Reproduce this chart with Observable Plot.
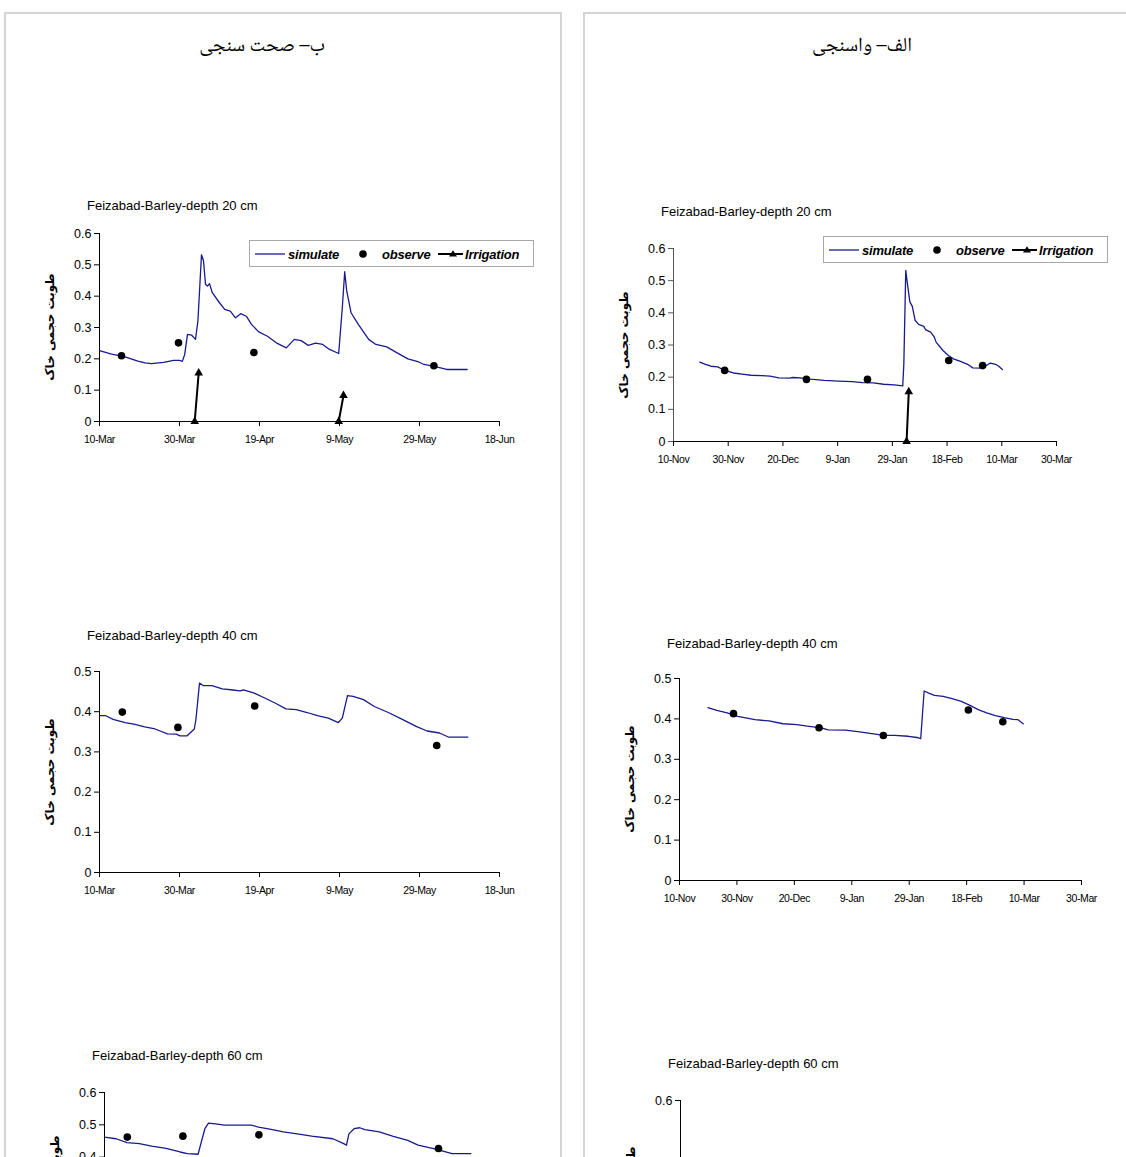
<!DOCTYPE html>
<html><head><meta charset="utf-8">
<script src="https://cdn.jsdelivr.net/npm/d3@7"></script>
<script src="https://cdn.jsdelivr.net/npm/@observablehq/plot@0.6"></script>
<style>
html,body{margin:0;padding:0;background:#fff;}
#page{position:relative;width:1126px;height:1157px;overflow:hidden;background:#fff;}
.panel{position:absolute;border:2px solid #d4d4d4;box-sizing:border-box;}
.ptitle{position:absolute;font-family:"Noto Naskh Arabic","Liberation Serif","DejaVu Serif",serif;font-size:20px;transform:translate(-50%,-50%);white-space:nowrap;direction:rtl;color:#000;}
.ctitle{position:absolute;font-family:"Liberation Sans",Arial,sans-serif;font-size:13px;white-space:nowrap;transform:translateY(-50%);color:#000;}
.ylab{position:absolute;font-family:"DejaVu Sans",sans-serif;font-weight:bold;font-size:12px;white-space:nowrap;transform:translate(-50%,-50%) rotate(-90deg);direction:rtl;color:#000;}
.chart{position:absolute;}
.chart svg{display:block;overflow:visible;}
.chart [aria-label="x-axis tick label"]{letter-spacing:-0.4px;}
.legend{position:absolute;width:285px;height:27px;border:1px solid #a8a8a8;box-sizing:border-box;background:#fff;}
.legend span{position:absolute;top:50%;transform:translateY(-50%);font-family:"Liberation Sans",Arial,sans-serif;font-size:13px;font-weight:bold;font-style:italic;white-space:nowrap;letter-spacing:-0.2px;}
.legend svg{position:absolute;left:0;top:0;}
</style>
</head>
<body>
<div id="page"></div>
<script>
// ---------- text ----------
const panelTitleLeft = "ب– صحت سنجی";
const panelTitleRight = "الف– واسنجی";
const yLabel = "طوبت حجمی خاک";
const chartTitles = ["Feizabad-Barley-depth 20 cm", "Feizabad-Barley-depth 40 cm", "Feizabad-Barley-depth 60 cm"];
const legendLabels = ["simulate", "observe", "Irrigation"];

// ---------- tick labels (dates) ----------
const leftTicks = ["2006-03-10","2006-03-30","2006-04-19","2006-05-09","2006-05-29","2006-06-18"];
const rightTicks = ["2005-11-10","2005-11-30","2005-12-20","2006-01-09","2006-01-29","2006-02-18","2006-03-10","2006-03-30"];
const yTicks6 = [0, 0.1, 0.2, 0.3, 0.4, 0.5, 0.6];
const yTicks5 = [0, 0.1, 0.2, 0.3, 0.4, 0.5];
const yTicks6b = [0, 0.2, 0.4, 0.6];

// ---------- data: [day offset from first tick, value] ----------
// Validation (left), depth 20 cm
const valSim20 = [[0,0.226],[3,0.215],[6,0.208],[9.6,0.193],[11.4,0.187],[13,0.185],[16,0.189],[18.5,0.195],[20,0.195],[20.7,0.192],[21.3,0.214],[22,0.278],[23,0.276],[24,0.262],[24.6,0.32],[25.5,0.532],[26,0.513],[26.5,0.438],[27,0.432],[27.5,0.44],[28.2,0.411],[30,0.379],[31.3,0.358],[32.7,0.352],[34,0.331],[35.3,0.344],[36.7,0.336],[38,0.31],[39.8,0.286],[42,0.272],[44.2,0.251],[46.7,0.235],[48.7,0.262],[50.4,0.258],[52.2,0.243],[54,0.25],[55.8,0.246],[57.5,0.23],[59.8,0.217],[60.7,0.363],[61.3,0.478],[61.8,0.417],[62.9,0.347],[64.7,0.31],[67.3,0.262],[69.1,0.246],[71.8,0.238],[74.4,0.219],[77.1,0.2],[79.8,0.19],[81.1,0.182],[83.7,0.176],[86.8,0.166],[91.9,0.166]];
const valObs20 = [[5.5,0.21],[19.75,0.251],[38.6,0.22],[83.6,0.178]];
const valIrr20 = [[1,23.8,0],[1,24.8,0.155],[2,59.8,0],[2,61,0.083]];
// Validation (left), depth 40 cm
const valSim40 = [[0,0.39],[1.6,0.39],[3.4,0.381],[6.4,0.373],[8.6,0.369],[11.3,0.362],[13.9,0.357],[17,0.345],[19.2,0.344],[20.1,0.34],[21.9,0.34],[23.7,0.357],[24.1,0.38],[25,0.471],[25.9,0.465],[28.1,0.465],[30.7,0.457],[33.4,0.454],[35.1,0.452],[36,0.454],[38.7,0.446],[41.3,0.434],[44,0.421],[46.6,0.407],[49.2,0.405],[51.9,0.398],[54.5,0.39],[57.2,0.384],[59.7,0.373],[60.7,0.384],[62,0.44],[63.4,0.438],[66,0.43],[68.7,0.413],[72.2,0.398],[75.7,0.381],[79.3,0.363],[81.9,0.352],[85,0.347],[87.2,0.337],[92.1,0.337]];
const valObs40 = [[5.7,0.399],[19.6,0.361],[38.8,0.414],[84.3,0.316]];
// Validation (left), depth 60 cm
const valSim60 = [[0,0.462],[2.9,0.457],[5.6,0.445],[8.7,0.442],[11.8,0.434],[15.4,0.427],[18.9,0.416],[20.7,0.411],[23.4,0.409],[24.2,0.447],[25.1,0.488],[26,0.505],[27.8,0.503],[30,0.499],[36.7,0.499],[38.5,0.493],[42,0.485],[44.7,0.478],[48.2,0.472],[51.8,0.465],[57.1,0.457],[59.8,0.442],[60.5,0.437],[61.1,0.472],[62.4,0.488],[63.8,0.491],[65.1,0.485],[68.7,0.478],[72.2,0.464],[75.8,0.452],[78.4,0.437],[82,0.427],[84.6,0.419],[86.9,0.411],[91.6,0.411]];
const valObs60 = [[5.7,0.462],[19.6,0.465],[38.6,0.469],[83.5,0.427]];

// Calibration (right), depth 20 cm
const calSim20 = [[9.6,0.247],[11.7,0.24],[13.7,0.234],[16.2,0.232],[18.1,0.223],[21.9,0.213],[25.8,0.209],[28.3,0.206],[32.2,0.205],[35.3,0.203],[38.5,0.198],[42.4,0.197],[43.6,0.199],[47.5,0.197],[50,0.194],[55.1,0.19],[60.2,0.188],[65.3,0.186],[69.2,0.183],[73,0.182],[76.8,0.178],[80.7,0.176],[83.8,0.173],[84.2,0.242],[84.9,0.532],[85.5,0.491],[86.4,0.434],[87.3,0.42],[88.3,0.377],[89.6,0.364],[91.5,0.358],[92.1,0.348],[94,0.34],[95.3,0.325],[96,0.309],[98.5,0.283],[100.4,0.268],[102.3,0.257],[104.9,0.249],[107.5,0.24],[109.4,0.229],[112.6,0.228],[114.5,0.237],[115.8,0.244],[117.7,0.24],[118.9,0.234],[120.2,0.224]];
const calObs20 = [[18.7,0.221],[48.6,0.193],[70.9,0.193],[100.6,0.252],[113,0.236]];
const calIrr20 = [[1,85.2,0],[1,86,0.155]];
// Calibration (right), depth 40 cm
const calSim40 = [[9.9,0.428],[13,0.421],[16.6,0.415],[20.3,0.406],[26.3,0.398],[31.2,0.395],[36,0.388],[40.9,0.386],[44.5,0.382],[49.4,0.378],[51.8,0.373],[57.9,0.372],[62.7,0.368],[67.6,0.363],[71.2,0.359],[74.9,0.359],[79.7,0.357],[82.7,0.354],[84,0.351],[85.2,0.469],[87,0.463],[88.8,0.458],[91.8,0.456],[94.9,0.45],[97.9,0.444],[101,0.434],[104,0.423],[107,0.415],[110,0.408],[113.1,0.403],[116.1,0.399],[117.9,0.398],[119.7,0.388]];
const calObs40 = [[18.8,0.413],[48.6,0.378],[71,0.359],[100.6,0.422],[112.6,0.393]];

// ---------- layout ----------
const page = document.getElementById("page");
function el(tag, cls, style, text) {
  const e = document.createElement(tag);
  if (cls) e.className = cls;
  Object.assign(e.style, style || {});
  if (text != null) e.textContent = text;
  page.appendChild(e);
  return e;
}

el("div", "panel", {left: "4px", top: "12px", width: "558px", height: "1300px"});
el("div", "panel", {left: "583px", top: "12px", width: "600px", height: "1300px"});
el("div", "ptitle", {left: "262px", top: "47px"}, panelTitleLeft);
el("div", "ptitle", {left: "862px", top: "47px"}, panelTitleRight);

const SIM = "#1a1a90";
const fmtY = d => d === 0 ? "0" : d3.format(".1f")(d);
const fmtX = d3.utcFormat("%-d-%b");

function chart(o) {
  const mL = 50, mR = 30, mT = 12, mB = 36;
  const W = mL + (o.x1 - o.x0) + mR, H = mT + (o.yBot - o.yTop) + mB;
  const ticks = o.ticks.map(s => new Date(s + "T00:00:00Z"));
  const base = ticks[0];
  const toDate = d => new Date(base.getTime() + d * 864e5);
  const sim = (o.sim || []).map(([d, v]) => ({date: toDate(d), v}));
  const obs = (o.obs || []).map(([d, v]) => ({date: toDate(d), v}));
  const irr = (o.irr || []).map(([e, d, v]) => ({e, date: toDate(d), v}));
  const svg = Plot.plot({
    width: W, height: H,
    marginLeft: mL, marginRight: mR, marginTop: mT, marginBottom: mB,
    style: {fontFamily: '"Liberation Sans", Arial, sans-serif', fontSize: "12px", background: "none", overflow: "visible", color: "#000"},
    x: {type: "utc", domain: [ticks[0], ticks[ticks.length - 1]]},
    y: {domain: [0, o.yMax]},
    marks: [
      Plot.ruleY([0], {stroke: "#000", strokeWidth: 1}),
      Plot.ruleX([base], {stroke: o.yAxisColor || "#000", strokeWidth: 1}),
      Plot.axisY({ticks: o.yTicks, tickFormat: fmtY, tickSize: 5, tickPadding: 3, label: null, fontSize: 12.5, stroke: o.yAxisColor || "#000"}),
      Plot.axisX({ticks: ticks, tickFormat: fmtX, tickSize: 5, tickPadding: 9, label: null, fontSize: 10.5}),
      Plot.line(irr, {x: "date", y: "v", z: "e", stroke: "#000", strokeWidth: 2}),
      Plot.dot(irr, {x: "date", y: "v", symbol: "triangle", r: 3.2, fill: "#000", stroke: "none"}),
      Plot.line(sim, {x: "date", y: "v", stroke: SIM, strokeWidth: 1.3}),
      Plot.dot(obs, {x: "date", y: "v", r: 3.8, fill: "#000", stroke: "none"})
    ]
  });
  const wrap = el("div", "chart", {left: (o.x0 - mL) + "px", top: (o.yTop - mT) + "px"});
  wrap.appendChild(svg);
  el("div", "ctitle", {left: (o.x0 - 12) + "px", top: o.titleY + "px"}, o.title);
  el("div", "ylab", {left: (o.x0 - 49) + "px", top: ((o.yTop + o.yBot) / 2) + "px"}, yLabel);
}

function legend(left, top) {
  const L = el("div", "legend", {left: left + "px", top: top + "px"});
  const ns = "http://www.w3.org/2000/svg";
  const s = document.createElementNS(ns, "svg");
  s.setAttribute("width", 285); s.setAttribute("height", 27);
  s.innerHTML =
    `<line x1="5" x2="35" y1="13" y2="13" stroke="${SIM}" stroke-width="1.3"/>` +
    `<circle cx="113" cy="13" r="3.8" fill="#000"/>` +
    `<line x1="188" x2="213" y1="13" y2="13" stroke="#000" stroke-width="2"/>` +
    `<path d="M203,9.2 L207,15.6 L199,15.6 Z" fill="#000"/>`;
  L.appendChild(s);
  [[38, legendLabels[0]], [132, legendLabels[1]], [215, legendLabels[2]]].forEach(([x, t]) => {
    const sp = document.createElement("span");
    sp.style.left = x + "px";
    sp.textContent = t;
    L.appendChild(sp);
  });
}

// left column: validation
chart({x0: 99, x1: 499, yTop: 233, yBot: 421, yMax: 0.6, yTicks: yTicks6, ticks: leftTicks,
       sim: valSim20, obs: valObs20, irr: valIrr20, title: chartTitles[0], titleY: 205});
chart({x0: 99, x1: 499, yTop: 671, yBot: 872, yMax: 0.5, yTicks: yTicks5, ticks: leftTicks,
       sim: valSim40, obs: valObs40, title: chartTitles[1], titleY: 635});
chart({x0: 104, x1: 504, yTop: 1092, yBot: 1286, yMax: 0.6, yTicks: yTicks6, ticks: leftTicks,
       sim: valSim60, obs: valObs60, title: chartTitles[2], titleY: 1055});

// right column: calibration
chart({x0: 673, x1: 1056, yTop: 248, yBot: 441, yMax: 0.6, yTicks: yTicks6, ticks: rightTicks,
       sim: calSim20, obs: calObs20, irr: calIrr20, title: chartTitles[0], titleY: 211, yAxisColor: "#555"});
chart({x0: 679, x1: 1081, yTop: 678, yBot: 880, yMax: 0.5, yTicks: yTicks5, ticks: rightTicks,
       sim: calSim40, obs: calObs40, title: chartTitles[1], titleY: 643});
chart({x0: 680, x1: 1082, yTop: 1100, yBot: 1300, yMax: 0.6, yTicks: yTicks6b, ticks: rightTicks,
       title: chartTitles[2], titleY: 1063});

legend(249, 240);
legend(823, 236);
</script>
</body></html>
